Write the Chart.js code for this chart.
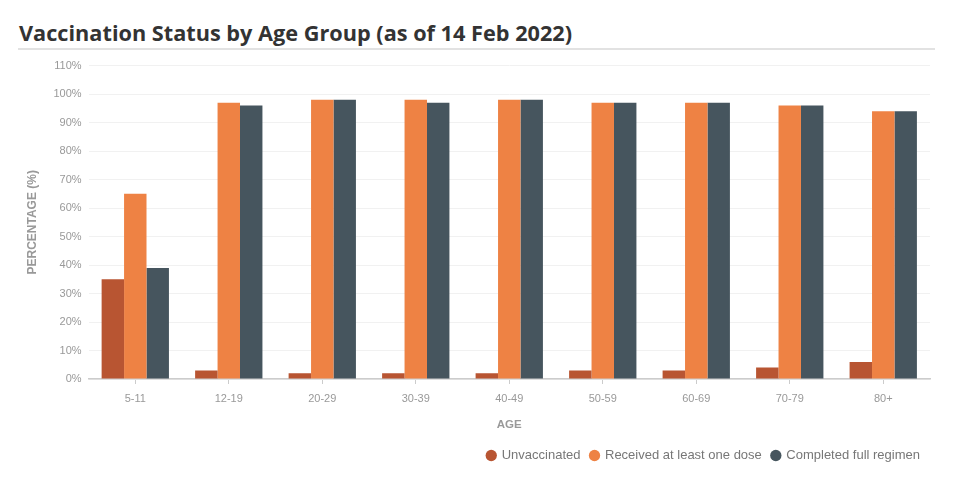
<!DOCTYPE html>
<html>
<head>
<meta charset="utf-8">
<script src="https://cdn.jsdelivr.net/npm/chart.js@4"></script>
<style>
  body { margin: 0; background: #fff; width: 980px; height: 479px; overflow: hidden; }
  #title {
    position: absolute; left: 19px; top: 18px;
    font: bold 21.7px "Open Sans", sans-serif; color: #333;
  }
  #rule { position: absolute; left: 18px; top: 48px; width: 917px; height: 0; border-top: 2px solid #e2e2e2; }
  #wrap { position: absolute; left: 0; top: 52px; width: 980px; height: 427px; }
</style>
</head>
<body>
<div id="title">Vaccination Status by Age Group (as of 14 Feb 2022)</div>
<div id="rule"></div>
<div id="wrap"><canvas id="myChart"></canvas></div>
<script>
// age groups on the x axis
const ageGroups = ['5-11', '12-19', '20-29', '30-39', '40-49', '50-59', '60-69', '70-79', '80+'];
// percentages per group
const unvaccinated = [35, 3, 2, 2, 2, 3, 3, 4, 6];
const oneDose = [65, 97, 98, 98, 98, 97, 97, 96, 94];
const fullRegimen = [39, 96, 98, 97, 98, 97, 97, 96, 94];

const fam = 'Liberation Sans, Arial, sans-serif';

const ctx = document.getElementById('myChart').getContext('2d');
new Chart(ctx, {
  type: 'bar',
  data: {
    labels: ageGroups,
    datasets: [
      { label: 'Unvaccinated', data: unvaccinated, backgroundColor: '#b85532' },
      { label: 'Received at least one dose', data: oneDose, backgroundColor: '#ee8244' },
      { label: 'Completed full regimen', data: fullRegimen, backgroundColor: '#46555e' }
    ]
  },
  options: {
    responsive: true,
    maintainAspectRatio: false,
    animation: false,
    categoryPercentage: 0.72,
    barPercentage: 1.0,
    layout: { padding: { left: 21, right: 50, top: 11, bottom: 7 } },
    plugins: {
      tooltip: { enabled: false },
      legend: {
        position: 'bottom',
        align: 'end',
        labels: {
          usePointStyle: true,
          pointStyle: 'circle',
          boxWidth: 8,
          boxHeight: 8,
          padding: 10,
          color: '#777',
          font: { family: fam, size: 13 }
        }
      }
    },
    scales: {
      x: {
        grid: { display: true, drawOnChartArea: false, offset: false, tickLength: 5, color: '#ccc' },
        border: { color: '#ccc', width: 1.5 },
        ticks: { color: '#999', font: { family: fam, size: 11 }, padding: 8 },
        title: {
          display: true, text: 'AGE', color: '#999',
          font: { family: fam, size: 11.5, weight: 'bold' },
          padding: { top: 5, bottom: 7 }
        }
      },
      y: {
        min: 0,
        max: 110,
        ticks: {
          stepSize: 10, color: '#999', font: { family: fam, size: 11 }, padding: 7,
          callback: v => v + '%'
        },
        grid: { color: '#f1f1f1', drawTicks: false },
        border: { display: false },
        title: {
          display: true, text: 'PERCENTAGE (%)', color: '#999',
          font: { family: fam, size: 12, weight: 'bold' },
          padding: { bottom: 7 }
        }
      }
    }
  }
});
</script>
</body>
</html>
